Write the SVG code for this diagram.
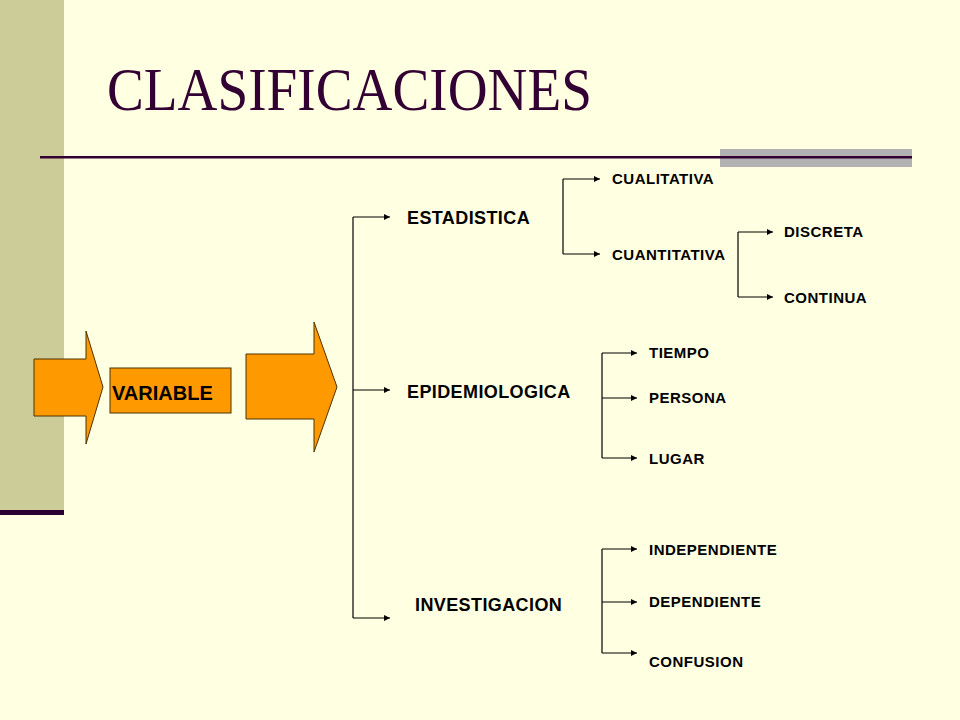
<svg xmlns="http://www.w3.org/2000/svg" width="960" height="720" viewBox="0 0 960 720">
<style>
.l1{font-family:"Liberation Sans",Arial,sans-serif;font-weight:bold;font-size:18px;letter-spacing:0.4px;fill:#000}
.l2{font-family:"Liberation Sans",Arial,sans-serif;font-weight:bold;font-size:15px;letter-spacing:0.5px;fill:#000}
.c{fill:none;stroke:#000;stroke-width:1.2}
.a{fill:#000;stroke:none}
.org{fill:#FF9900;stroke:#4d3300;stroke-width:1}
</style>
<defs>
<marker id="ah" viewBox="0 0 10 10" refX="10" refY="5" markerWidth="8" markerHeight="6" markerUnits="userSpaceOnUse" orient="auto">
<path d="M0,0 L10,5 L0,10 Z" class="a"/>
</marker>
</defs>
<rect width="960" height="720" fill="#FFFFE1"/>
<rect x="0" y="0" width="64" height="511" fill="#CCCC99"/>
<rect x="0" y="510" width="64" height="5" fill="#2A0033"/>
<rect x="720" y="149" width="192" height="18" fill="#B2B2B2"/>
<rect x="40" y="156" width="872" height="2.5" fill="#330033"/>
<text x="107" y="110" font-family="'Liberation Serif','Times New Roman',serif" font-size="62" fill="#330033" textLength="485" lengthAdjust="spacingAndGlyphs">CLASIFICACIONES</text>

<g id="arrow-in"><path class="org" d="M34,359 L86,359 L86,331 L103,387 L86,444 L86,416 L34,416 Z"/></g>
<g id="variable"><rect class="org" x="110" y="368" width="121" height="45"/><text x="112" y="400" font-family="'Liberation Sans',Arial,sans-serif" font-weight="bold" font-size="20" fill="#000">VARIABLE</text></g>
<g id="arrow-out"><path class="org" d="M246,354 L314,354 L314,322 L337,387 L314,452 L314,419 L246,419 Z"/></g>

<g id="connectors">
<path class="c" d="M353,217 L353,618"/>
<path class="c" d="M353,217 L390,217" marker-end="url(#ah)"/>
<path class="c" d="M353,390 L390,390" marker-end="url(#ah)"/>
<path class="c" d="M353,618 L390,618" marker-end="url(#ah)"/>
<path class="c" d="M563,179 L563,254"/>
<path class="c" d="M563,179 L600,179" marker-end="url(#ah)"/>
<path class="c" d="M563,254 L600,254" marker-end="url(#ah)"/>
<path class="c" d="M738,232 L738,297"/>
<path class="c" d="M738,232 L773,232" marker-end="url(#ah)"/>
<path class="c" d="M738,297 L773,297" marker-end="url(#ah)"/>
<path class="c" d="M602,353 L602,458"/>
<path class="c" d="M602,353 L637,353" marker-end="url(#ah)"/>
<path class="c" d="M602,398 L637,398" marker-end="url(#ah)"/>
<path class="c" d="M602,458 L637,458" marker-end="url(#ah)"/>
<path class="c" d="M602,549 L602,653"/>
<path class="c" d="M602,549 L637,549" marker-end="url(#ah)"/>
<path class="c" d="M602,602 L637,602" marker-end="url(#ah)"/>
<path class="c" d="M602,653 L637,653" marker-end="url(#ah)"/>
</g>

<g id="estadistica"><text class="l1" x="407" y="224">ESTADISTICA</text></g>
<g id="epidemiologica"><text class="l1" x="407" y="398">EPIDEMIOLOGICA</text></g>
<g id="investigacion"><text class="l1" x="415" y="611">INVESTIGACION</text></g>
<g id="cualitativa"><text class="l2" x="612" y="184">CUALITATIVA</text></g>
<g id="cuantitativa"><text class="l2" x="612" y="260">CUANTITATIVA</text></g>
<g id="discreta"><text class="l2" x="784" y="237">DISCRETA</text></g>
<g id="continua"><text class="l2" x="784" y="303">CONTINUA</text></g>
<g id="tiempo"><text class="l2" x="649" y="358">TIEMPO</text></g>
<g id="persona"><text class="l2" x="649" y="403">PERSONA</text></g>
<g id="lugar"><text class="l2" x="649" y="464">LUGAR</text></g>
<g id="independiente"><text class="l2" x="649" y="555">INDEPENDIENTE</text></g>
<g id="dependiente"><text class="l2" x="649" y="607">DEPENDIENTE</text></g>
<g id="confusion"><text class="l2" x="649" y="667">CONFUSION</text></g>
</svg>
